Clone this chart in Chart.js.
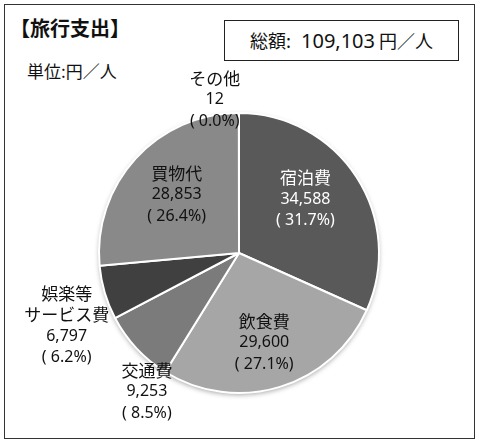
<!DOCTYPE html>
<html>
<head>
<meta charset="utf-8">
<script src="https://cdn.jsdelivr.net/npm/chart.js@4/dist/chart.umd.min.js"></script>
<style>
  html, body { margin: 0; padding: 0; background: #fff; }
  #wrap { position: relative; width: 480px; height: 444px; font-family: "Noto Sans CJK JP", "Noto Sans", sans-serif; color: #111; }
  #frame { position: absolute; left: 4px; top: 4px; width: 471px; height: 435px; border: 1.5px solid #333; box-sizing: border-box; }
  #title { position: absolute; left: 10px; top: 13px; font-size: 20px; font-weight: bold; }
  #total { position: absolute; left: 224px; top: 20px; width: 235px; height: 41px; border: 1.5px solid #222; box-sizing: border-box; font-size: 18px; line-height: 38px; text-align: center; white-space: nowrap; }
  #total .num { font-family: "Noto Sans", sans-serif; font-size: 20px; margin: 0 4px 0 10px; }
  #unit { position: absolute; left: 27px; top: 58px; font-size: 17px; }
  canvas { position: absolute; left: 0; top: 0; }
</style>
</head>
<body>
<div id="wrap">
  <div id="frame"></div>
  <div id="title">【旅行支出】</div>
  <div id="total">総額:<span class="num">109,103</span>円／人</div>
  <div id="unit">単位:円／人</div>
  <canvas id="canvas_pie" width="480" height="444"></canvas>
</div>
<script>
// 費目 (clockwise from top)
var categories = [['宿泊費'], ['飲食費'], ['交通費'], ['娯楽等', 'サービス費'], ['買物代'], ['その他']];
var amounts = [34588, 29600, 9253, 6797, 28853, 12];
var percents = ['31.7', '27.1', '8.5', '6.2', '26.4', '0.0'];

var sliceColors = ['#595959', '#a6a6a6', '#7b7b7b', '#404040', '#898989', '#9a9a9a'];
var labelColors = ['#ffffff', '#111111', '#111111', '#111111', '#111111', '#111111'];
// label placement: [radius factor, angle shift in degrees]
var labelPlace = [[0.61, -6], [0.665, 1.3], [1.19, -13.5], [1.335, -6.3], [0.61, 0.8], [1.107, -9]];

function fmt(n) {
  return n.toString().replace(/\B(?=(\d{3})+(?!\d))/g, ',');
}

var sliceLabels = {
  id: 'sliceLabels',
  beforeDatasetsDraw: function(chart) {
    var ctx = chart.ctx;
    ctx.save();
    ctx.shadowColor = 'rgba(0,0,0,0.35)';
    ctx.shadowBlur = 5;
    ctx.shadowOffsetY = 2;
    var arc = chart.getDatasetMeta(0).data[0];
    ctx.beginPath();
    ctx.arc(arc.x, arc.y, arc.outerRadius, 0, Math.PI * 2);
    ctx.fillStyle = '#888';
    ctx.fill();
    ctx.restore();
  },
  afterDatasetsDraw: function(chart) {
    var ctx = chart.ctx;
    var meta = chart.getDatasetMeta(0);
    ctx.save();
    ctx.textAlign = 'center';
    ctx.textBaseline = 'middle';
    meta.data.forEach(function(a, i) {
      var mid = (a.startAngle + a.endAngle) / 2 + labelPlace[i][1] * Math.PI / 180;
      var r = a.outerRadius * labelPlace[i][0];
      var cx = a.x + Math.cos(mid) * r;
      var cy = a.y + Math.sin(mid) * r;
      var lines = [];
      categories[i].forEach(function(t) { lines.push({ t: t, f: '17px "Noto Sans CJK JP"' }); });
      lines.push({ t: fmt(amounts[i]), f: '16px "Noto Sans", "Noto Sans CJK JP"' });
      lines.push({ t: '( ' + percents[i] + '%)', f: '16px "Noto Sans", "Noto Sans CJK JP"' });
      var lh = 21.5;
      var y0 = cy - (lines.length - 1) * lh / 2;
      ctx.fillStyle = labelColors[i];
      lines.forEach(function(l, k) {
        ctx.font = l.f;
        ctx.fillText(l.t, cx, y0 + k * lh);
      });
    });
    ctx.restore();
  }
};

var config = {
  type: 'pie',
  data: {
    labels: categories.map(function(c) { return c.join(''); }),
    datasets: [{
      data: amounts,
      backgroundColor: sliceColors,
      borderColor: '#ffffff',
      borderWidth: 2
    }]
  },
  options: {
    responsive: false,
    animation: false,
    layout: { padding: { top: 112, bottom: 50, left: 98, right: 100 } },
    plugins: {
      legend: { display: false },
      tooltip: { enabled: false }
    }
  },
  plugins: [sliceLabels]
};

new Chart(document.getElementById('canvas_pie').getContext('2d'), config);
</script>
</body>
</html>
